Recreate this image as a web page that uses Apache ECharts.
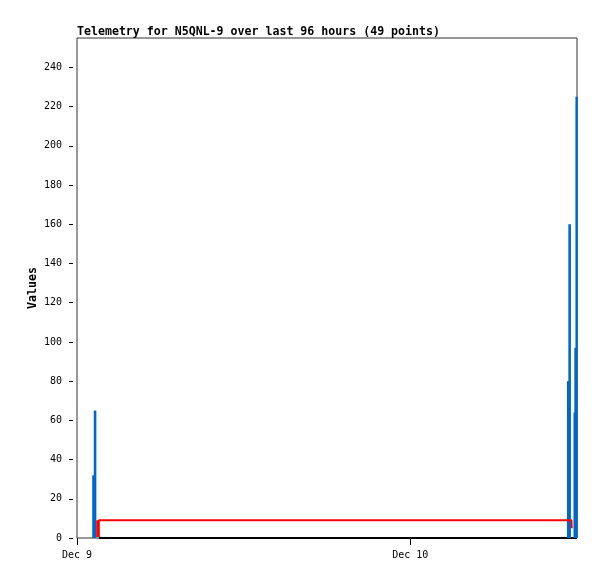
<!DOCTYPE html>
<html>
<head>
<meta charset="utf-8">
<script src="https://cdn.jsdelivr.net/npm/echarts@6/dist/echarts.min.js"></script>
<style>
html,body{margin:0;padding:0;background:#fff;}
#chart{width:597px;height:579px;}
</style>
</head>
<body>
<div id="chart"></div>
<script>
// ---- data (hours after Dec 9 00:00) ----
const titleText = 'Telemetry for N5QNL-9 over last 96 hours (49 points)';
const yAxisName = 'Values';
const blueHours  = [1.19, 1.30, 35.37, 35.47, 35.84, 35.90, 35.98];
const blueValues = [32, 65, 80, 160, 64, 97, 225];
const redHours   = [1.455, 1.456, 1.57, 1.571, 1.572, 35.60, 35.62];
const redValues  = [0.5, 9, 9, 0.5, 9, 9, 5];
const blackHours = [1.58, 36];
const blackValues = [0, 0];
const yTicks = [0, 20, 40, 60, 80, 100, 120, 140, 160, 180, 200, 220, 240];
const xTickHours = [0, 24];
const xTickLabels = ['Dec 9', 'Dec 10'];

const start = Date.UTC(2024, 11, 9);
const HOUR = 3600000;
const toT = h => start + h * HOUR;
const pairs = (hs, vs) => hs.map((h, i) => [toT(h), vs[i]]);
const labelMap = {};
xTickHours.forEach((h, i) => { labelMap[toT(h)] = xTickLabels[i]; });

const mono = '"DejaVu Sans Mono", monospace';
const chart = echarts.init(document.getElementById('chart'));
chart.setOption({
  animation: false,
  backgroundColor: '#ffffff',
  title: {
    text: titleText,
    left: 77, top: 26, padding: 0,
    textStyle: { fontFamily: mono, fontWeight: 'bold', fontSize: 11.6, color: '#000' }
  },
  grid: {
    left: 77, right: 20, top: 38, bottom: 41,
    show: true, borderColor: '#333', borderWidth: 1,
    containLabel: false, outerBoundsMode: 'none'
  },
  xAxis: {
    type: 'value',
    min: toT(0), max: toT(36),
    interval: 24 * HOUR,
    axisLine: { show: false },
    splitLine: { show: false },
    axisTick: { show: true, length: 7, lineStyle: { color: '#000' }, customValues: xTickHours.map(toT) },
    axisLabel: {
      customValues: xTickHours.map(toT),
      margin: 12,
      fontFamily: mono, fontSize: 10, color: '#000',
      formatter: v => labelMap[v] || ''
    }
  },
  yAxis: {
    type: 'value',
    min: 0, max: 255, interval: 20,
    offset: 4,
    name: yAxisName,
    nameLocation: 'middle',
    nameGap: 34,
    nameRotate: 90,
    nameMoveOverlap: false,
    nameTextStyle: { fontFamily: mono, fontWeight: 'bold', fontSize: 11.6, color: '#000' },
    axisLine: { show: false },
    splitLine: { show: false },
    axisTick: { show: true, length: 4, lineStyle: { color: '#000' }, customValues: yTicks },
    axisLabel: { customValues: yTicks, margin: 11, fontFamily: mono, fontSize: 10, color: '#000' }
  },
  series: [
    {
      type: 'line', data: pairs(blackHours, blackValues),
      showSymbol: false, lineStyle: { color: '#000', width: 2 }, z: 1
    },
    {
      type: 'bar', data: pairs(blueHours, blueValues),
      barWidth: 2.6, itemStyle: { color: '#0066cc' }, z: 2
    },
    {
      type: 'line', data: pairs(redHours, redValues),
      showSymbol: false, lineStyle: { color: '#ff0000', width: 2 }, z: 3
    }
  ]
});
</script>
</body>
</html>
